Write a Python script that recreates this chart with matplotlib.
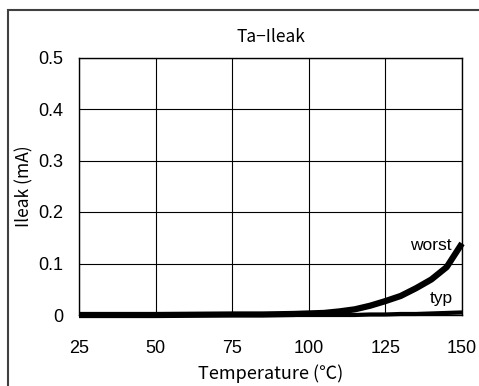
import matplotlib
matplotlib.use("Agg")
import matplotlib.pyplot as plt
from matplotlib.patches import Rectangle

# temperature (degC) vs leak current (mA)
temp = [25, 50, 75, 85, 95, 100, 105, 110, 115, 120, 125, 130, 135, 140, 145, 150]
worst = [0.0, 0.0, 0.001, 0.001, 0.002, 0.003, 0.004, 0.007, 0.011, 0.018, 0.027, 0.037, 0.052, 0.069, 0.093, 0.139]
typ = [0.0, 0.0, 0.0, 0.0, 0.0, 0.0, 0.0, 0.0, 0.0, 0.001, 0.001, 0.002, 0.002, 0.003, 0.004, 0.005]

x_ticks = [25, 50, 75, 100, 125, 150]
y_ticks = [0, 0.1, 0.2, 0.3, 0.4, 0.5]
y_labels = ["0", "0.1", "0.2", "0.3", "0.4", "0.5"]

jp = ["Noto Sans CJK JP", "DejaVu Sans"]
num = ["Liberation Sans", "DejaVu Sans"]

fig = plt.figure(figsize=(4.79, 3.86), dpi=100)
# outer frame of the original chart area
fig.patches.append(Rectangle((8 / 479, -0.1), 1.2, 1 - 10 / 386 + 0.1,
                             transform=fig.transFigure, fill=False,
                             edgecolor="#404040", linewidth=1.5))

ax = fig.add_axes([79 / 479, 1 - 315 / 386, 383 / 479, 257.5 / 386])
ax.plot(temp, worst, color="black", linewidth=4.5, solid_capstyle="butt", clip_on=False, zorder=3)
ax.plot(temp, typ, color="black", linewidth=3, solid_capstyle="butt", clip_on=False, zorder=3)

ax.set_xlim(25, 150)
ax.set_ylim(0, 0.5)
ax.set_xticks(x_ticks)
ax.set_yticks(y_ticks)
ax.set_yticklabels(y_labels)
ax.grid(True, color="black", linewidth=0.8)
ax.tick_params(axis="y", length=0, pad=11)
ax.tick_params(axis="x", length=0, pad=18)
for lab in ax.get_xticklabels() + ax.get_yticklabels():
    lab.set_family(num)
    lab.set_fontsize(13)
for s in ax.spines.values():
    s.set_linewidth(1.0)
    s.set_color("black")

ax.set_title("Ta\u2212Ileak", family=jp, fontsize=12.5, pad=11)
ax.set_xlabel("Temperature (\u2103)", family=jp, fontsize=13, labelpad=5)
ax.set_ylabel("Ileak (mA)", family=jp, fontsize=12.5, labelpad=4)

ax.text(146.5, 0.12, "worst", family=num, fontsize=12.5, ha="right", va="bottom")
ax.text(147, 0.032, "typ", family=num, fontsize=12.5, ha="right", va="center")

fig.savefig("out.png", dpi=100)
